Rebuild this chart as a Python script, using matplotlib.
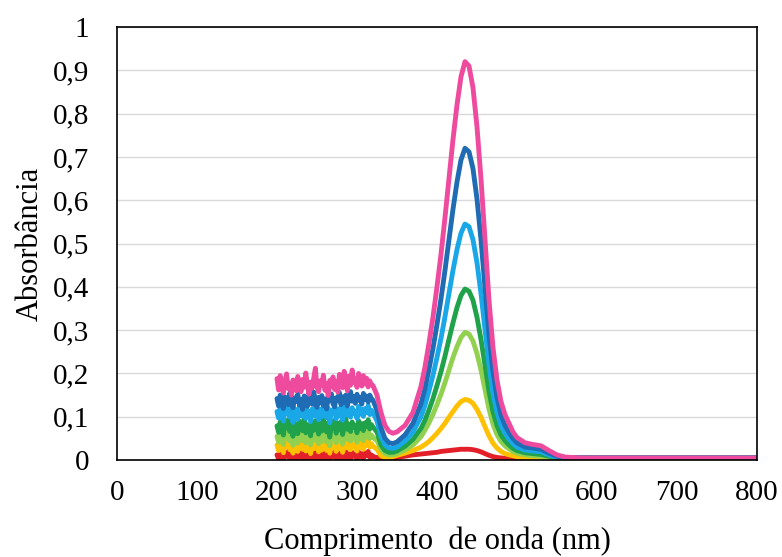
import numpy as np
import matplotlib
matplotlib.use("Agg")
import matplotlib.pyplot as plt

# ============================================================
# Data: UV-Vis spectra, noisy region (200-320 nm) + smooth band
# ============================================================
wl_noise = np.arange(200, 321, 2)
wl_band = [325, 330, 335, 340, 345, 350, 360, 370,
           380, 385, 390, 395, 400, 405, 410, 415, 420, 425, 430, 435, 440,
           445, 450, 455, 460, 465, 470, 475, 480, 485, 490, 495, 500,
           510, 520, 530, 540, 550, 560, 580, 600, 700, 800]

red_noise = [0.012, 0.003, 0.017, 0.006, 0.001, 0.014, 0.009, 0.020, 0.004, 0.013,
             0.000, 0.016, 0.007, 0.002, 0.019, 0.011, 0.005, 0.022, 0.003, 0.015,
             0.008, 0.000, 0.018, 0.005, 0.021, 0.010, 0.002, 0.016, 0.004, 0.020,
             0.012, 0.003, 0.018, 0.001, 0.014, 0.008, 0.019, 0.002, 0.015, 0.006,
             0.017, 0.001, 0.011, 0.021, 0.005, 0.014, 0.003, 0.018, 0.009, 0.013,
             0.002, 0.019, 0.007, 0.015, 0.004, 0.016, 0.010, 0.020, 0.006, 0.012,
             0.008]
red_band = [0.006, 0.002, 0.001, 0.002, 0.004, 0.006, 0.009, 0.012,
            0.014, 0.015, 0.016, 0.017, 0.018, 0.020, 0.021, 0.022, 0.023, 0.024, 0.025, 0.025, 0.025,
            0.024, 0.022, 0.019, 0.015, 0.011, 0.008, 0.006, 0.005, 0.004, 0.003, 0.003, 0.003,
            0.002, 0.002, 0.002, 0.002, 0.002, 0.002, 0.002, 0.002, 0.002, 0.002]

yellow_noise = [0.035, 0.022, 0.043, 0.028, 0.017, 0.039, 0.031, 0.047, 0.024, 0.036,
                0.016, 0.041, 0.029, 0.020, 0.045, 0.033, 0.025, 0.049, 0.021, 0.038,
                0.030, 0.015, 0.042, 0.026, 0.046, 0.032, 0.019, 0.040, 0.023, 0.048,
                0.034, 0.022, 0.044, 0.016, 0.037, 0.030, 0.046, 0.020, 0.041, 0.027,
                0.043, 0.018, 0.033, 0.050, 0.028, 0.039, 0.024, 0.044, 0.031, 0.036,
                0.021, 0.045, 0.029, 0.040, 0.025, 0.042, 0.033, 0.047, 0.030, 0.038,
                0.032]
yellow_band = [0.025, 0.010, 0.006, 0.006, 0.008, 0.011, 0.016, 0.022,
               0.030, 0.036, 0.043, 0.052, 0.062, 0.073, 0.085, 0.099, 0.112, 0.125, 0.135, 0.140, 0.138,
               0.131, 0.117, 0.099, 0.077, 0.056, 0.039, 0.028, 0.020, 0.015, 0.012, 0.010, 0.008,
               0.006, 0.006, 0.005, 0.005, 0.005, 0.005, 0.005, 0.005, 0.005, 0.005]

lgreen_noise = [0.055, 0.041, 0.063, 0.048, 0.036, 0.059, 0.051, 0.068, 0.044, 0.057,
                0.034, 0.061, 0.049, 0.039, 0.065, 0.053, 0.045, 0.070, 0.040, 0.058,
                0.050, 0.035, 0.062, 0.046, 0.066, 0.052, 0.038, 0.060, 0.043, 0.069,
                0.054, 0.042, 0.064, 0.033, 0.057, 0.050, 0.067, 0.040, 0.061, 0.047,
                0.063, 0.037, 0.053, 0.071, 0.048, 0.059, 0.044, 0.064, 0.051, 0.056,
                0.041, 0.066, 0.049, 0.060, 0.045, 0.062, 0.053, 0.068, 0.050, 0.058,
                0.052]
lgreen_band = [0.045, 0.025, 0.015, 0.012, 0.012, 0.015, 0.023, 0.035,
               0.054, 0.069, 0.086, 0.106, 0.128, 0.152, 0.179, 0.208, 0.237, 0.262, 0.283, 0.295, 0.291,
               0.275, 0.246, 0.208, 0.163, 0.118, 0.083, 0.059, 0.043, 0.033, 0.026, 0.020, 0.016,
               0.012, 0.010, 0.009, 0.007, 0.005, 0.005, 0.005, 0.005, 0.005, 0.005]

green_noise = [0.079, 0.064, 0.088, 0.071, 0.058, 0.083, 0.075, 0.093, 0.066, 0.080,
               0.055, 0.086, 0.072, 0.061, 0.090, 0.077, 0.068, 0.095, 0.063, 0.082,
               0.073, 0.056, 0.085, 0.069, 0.091, 0.076, 0.060, 0.084, 0.067, 0.094,
               0.078, 0.065, 0.087, 0.053, 0.081, 0.074, 0.092, 0.062, 0.085, 0.070,
               0.089, 0.059, 0.077, 0.096, 0.071, 0.083, 0.066, 0.088, 0.075, 0.080,
               0.063, 0.091, 0.073, 0.084, 0.068, 0.086, 0.077, 0.093, 0.072, 0.082,
               0.076]
green_band = [0.065, 0.035, 0.022, 0.018, 0.018, 0.021, 0.032, 0.048,
              0.073, 0.092, 0.116, 0.142, 0.172, 0.204, 0.240, 0.279, 0.317, 0.352, 0.380, 0.395, 0.390,
              0.369, 0.330, 0.279, 0.219, 0.159, 0.112, 0.080, 0.058, 0.045, 0.035, 0.027, 0.022,
              0.017, 0.015, 0.013, 0.009, 0.006, 0.005, 0.005, 0.005, 0.005, 0.005]

lblue_noise = [0.112, 0.097, 0.121, 0.104, 0.090, 0.116, 0.108, 0.126, 0.099, 0.113,
               0.087, 0.119, 0.105, 0.094, 0.123, 0.110, 0.101, 0.128, 0.096, 0.115,
               0.106, 0.089, 0.118, 0.102, 0.124, 0.109, 0.093, 0.117, 0.100, 0.127,
               0.111, 0.098, 0.120, 0.086, 0.114, 0.107, 0.125, 0.095, 0.118, 0.103,
               0.122, 0.092, 0.110, 0.129, 0.104, 0.116, 0.099, 0.121, 0.108, 0.113,
               0.096, 0.124, 0.106, 0.117, 0.101, 0.119, 0.110, 0.126, 0.105, 0.115,
               0.110]
lblue_band = [0.090, 0.055, 0.035, 0.028, 0.027, 0.030, 0.044, 0.065,
              0.100, 0.127, 0.160, 0.196, 0.237, 0.281, 0.331, 0.385, 0.438, 0.486, 0.524, 0.545, 0.539,
              0.509, 0.456, 0.385, 0.302, 0.219, 0.154, 0.110, 0.080, 0.062, 0.049, 0.038, 0.030,
              0.023, 0.021, 0.019, 0.012, 0.007, 0.005, 0.005, 0.005, 0.005, 0.005]

dblue_noise = [0.142, 0.125, 0.150, 0.133, 0.119, 0.146, 0.138, 0.128, 0.155, 0.131,
               0.121, 0.144, 0.136, 0.152, 0.127, 0.140, 0.117, 0.148, 0.134, 0.124,
               0.151, 0.139, 0.129, 0.157, 0.135, 0.122, 0.145, 0.132, 0.149, 0.126,
               0.141, 0.118, 0.147, 0.137, 0.153, 0.130, 0.123, 0.144, 0.139, 0.156,
               0.128, 0.146, 0.133, 0.150, 0.125, 0.141, 0.158, 0.136, 0.147, 0.131,
               0.152, 0.138, 0.145, 0.129, 0.154, 0.140, 0.148, 0.134, 0.150, 0.142,
               0.138]
dblue_band = [0.115, 0.075, 0.050, 0.040, 0.038, 0.042, 0.058, 0.085,
              0.130, 0.165, 0.210, 0.258, 0.313, 0.372, 0.438, 0.509, 0.579, 0.642, 0.693, 0.720, 0.712,
              0.673, 0.603, 0.509, 0.399, 0.290, 0.204, 0.145, 0.104, 0.080, 0.064, 0.050, 0.040,
              0.030, 0.028, 0.025, 0.016, 0.009, 0.006, 0.005, 0.005, 0.005, 0.005]

pink_noise = [0.188, 0.162, 0.195, 0.170, 0.155, 0.182, 0.199, 0.165, 0.176, 0.150,
              0.185, 0.171, 0.160, 0.193, 0.178, 0.158, 0.186, 0.168, 0.201, 0.174,
              0.152, 0.180, 0.166, 0.190, 0.212, 0.169, 0.158, 0.183, 0.172, 0.196,
              0.161, 0.177, 0.149, 0.184, 0.170, 0.192, 0.163, 0.181, 0.157, 0.198,
              0.175, 0.167, 0.205, 0.182, 0.160, 0.194, 0.173, 0.208, 0.179, 0.187,
              0.168, 0.200, 0.185, 0.171, 0.195, 0.176, 0.189, 0.169, 0.183, 0.174,
              0.172]
pink_band = [0.150, 0.110, 0.080, 0.066, 0.062, 0.065, 0.080, 0.110,
             0.170, 0.215, 0.270, 0.330, 0.400, 0.475, 0.560, 0.650, 0.740, 0.820, 0.885, 0.920, 0.910,
             0.860, 0.770, 0.650, 0.510, 0.370, 0.260, 0.185, 0.135, 0.105, 0.085, 0.065, 0.052,
             0.040, 0.036, 0.033, 0.022, 0.012, 0.007, 0.005, 0.005, 0.005, 0.005]

series = [
    (red_noise, red_band, "#E3202A"),
    (yellow_noise, yellow_band, "#FFC000"),
    (lgreen_noise, lgreen_band, "#92D050"),
    (green_noise, green_band, "#1FA24A"),
    (lblue_noise, lblue_band, "#1AA7E8"),
    (dblue_noise, dblue_band, "#1F6CB4"),
    (pink_noise, pink_band, "#EE4A9E"),
]

y_ticks = [0, 0.1, 0.2, 0.3, 0.4, 0.5, 0.6, 0.7, 0.8, 0.9, 1.0]
y_tick_labels = ["0", "0,1", "0,2", "0,3", "0,4", "0,5", "0,6", "0,7", "0,8", "0,9", "1"]
x_ticks = [0, 100, 200, 300, 400, 500, 600, 700, 800]

# ============================================================
# Plot
# ============================================================
plt.rcParams["font.family"] = ["Liberation Serif", "DejaVu Serif"]

fig = plt.figure(figsize=(7.82, 5.57), dpi=100)
ax = fig.add_axes([0.1496, 0.174, 0.8184, 0.7775])

for noise, band, color in series:
    x = list(wl_noise) + wl_band
    y = list(noise) + band
    ax.plot(x, y, color=color, linewidth=3.5, solid_joinstyle="round",
            solid_capstyle="round")

ax.set_xlim(0, 800)
ax.set_ylim(0, 1)
ax.set_yticks(y_ticks)
ax.set_yticklabels(y_tick_labels)
ax.set_xticks(x_ticks)
ax.yaxis.grid(True, color="#D9D9D9", linewidth=1)
ax.set_axisbelow(True)
ax.tick_params(axis="both", length=0, labelsize=21)
ax.tick_params(axis="y", pad=20)
ax.tick_params(axis="x", pad=14)
for s in ax.spines.values():
    s.set_color("black")
    s.set_linewidth(1.2)

ax.set_xlabel("Comprimento  de onda (nm)", fontsize=22, labelpad=15)
ax.set_ylabel("Absorbância", fontsize=22, labelpad=6)

fig.savefig("out.png", dpi=100)
